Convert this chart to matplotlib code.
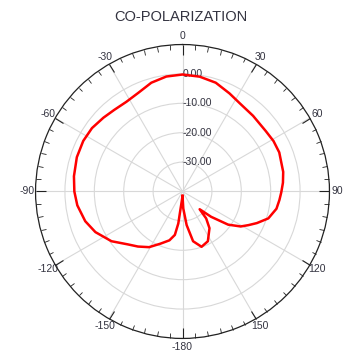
import numpy as np
import matplotlib.pyplot as plt

angle_deg = [-180, -176, -173.5, -172.5, -170, -165, -157, -149, -141, -134,
             -125, -115, -107, -97.5, -90, -82, -72, -63, -55, -47,
             -40, -32, -24, -16, -8, 0, 8.5, 17, 25.6, 32.8,
             43, 54, 61, 68, 79, 85, 90.5, 95, 100.4, 107.4,
             113, 117, 121, 126, 131.5, 136, 138.7, 143.7, 153, 161,
             168, 173, 177.4, 180]
gain_db = [-38.5, -37.0, -34.0, -29.0, -25.0, -22.8, -20.7, -17.9, -15.9, -14.1,
           -10.5, -7.3, -5.4, -3.9, -3.2, -2.7, -2.2, -2.1, -2.4, -3.2,
           -3.8, -4.0, -3.2, -1.5, -0.5, -0.2, -0.5, -1.3, -3.0, -4.2,
           -4.8, -5.0, -4.6, -4.5, -5.1, -5.7, -6.4, -6.9, -7.5, -9.4,
           -12.5, -14.8, -16.9, -20.8, -27.0, -31.6, -27.8, -24.5, -21.0, -20.1,
           -22.7, -28.5, -34.2, -38.5]

theta_ticks = [0, 30, 60, 90, 120, 150, 180, 210, 240, 270, 300, 330]
theta_labels = ["0", "30", "60", "90", "120", "150", "-180",
                "-150", "-120", "-90", "-60", "-30"]
r_rings = [-30, -20, -10, 0]
r_labels = ["-30.00", "-20.00", "-10.00", "0.00"]

plt.rcParams["font.family"] = ["Liberation Sans", "DejaVu Sans"]
txt = "#333340"

fig = plt.figure(figsize=(3.44, 3.52), dpi=100)
ax = fig.add_axes([0.1032, 0.0385, 0.8547, 0.835], projection="polar")
ax.set_theta_zero_location("N")
ax.set_theta_direction(-1)
ax.set_ylim(-40, 10)

ax.plot(np.deg2rad(angle_deg), gain_db, color="red", lw=1.8, zorder=5)

ax.set_xticks(np.deg2rad(theta_ticks))
ax.set_xticklabels(theta_labels, fontsize=7.5, color=txt)
ax.set_xticks(np.deg2rad(np.arange(0, 360, 5)), minor=True)
ax.tick_params(axis="x", which="both", top=True, bottom=False)
ax.tick_params(axis="x", which="major", direction="in", length=7, width=0.8,
               pad=-1.2, color="#222222")
ax.tick_params(axis="x", which="minor", direction="in", length=3.5, width=0.6,
               color="#222222")

ax.set_yticks(r_rings)
ax.set_yticklabels([])
for r, lab in zip(r_rings, r_labels):
    ax.text(0.005, r, lab, fontsize=7.5, color=txt, ha="left", va="center", zorder=4)

ax.grid(True, color="#d8d8d8", lw=0.8)
ax.spines["polar"].set_color("#222222")
ax.spines["polar"].set_linewidth(0.9)

fig.text(0.525, 0.951, "CO-POLARIZATION", ha="center", va="center",
         fontsize=10.5, color=txt)

fig.savefig("out.png", dpi=100)
